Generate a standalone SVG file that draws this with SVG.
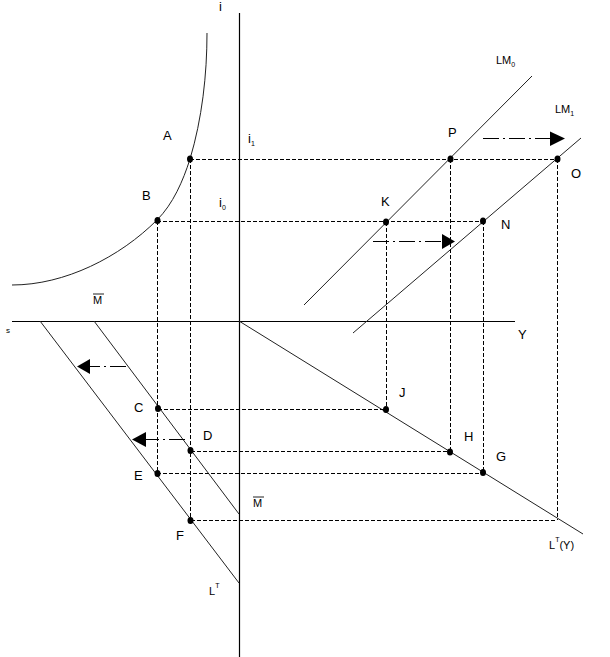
<svg xmlns="http://www.w3.org/2000/svg" width="610" height="657" viewBox="0 0 610 657">
<style>
.ax{stroke:#000;stroke-width:1.2;fill:none}
.ln{stroke:#222;stroke-width:1;fill:none}
.dsh{stroke:#000;stroke-width:1;stroke-dasharray:4,2;fill:none}
.arr{stroke:#000;stroke-width:1;stroke-dasharray:16,4,2,4;fill:none}
.hd{fill:#000}
.dot{fill:#000}
text{font-family:"Liberation Sans",Arial,sans-serif;font-size:13px;fill:#000}
.sub{font-size:7px}
.sm{font-size:11px}
</style>
<rect width="610" height="657" fill="#fff"/>
<g id="axes">
<line class="ax" x1="239.5" y1="13" x2="239.5" y2="657"/>
<line class="ax" x1="12" y1="321.5" x2="515" y2="321.5"/>
</g>
<g id="curves">
<path id="IS-curve" class="ln" d="M207,33 C207,75 202,119 190,159 C183,181 173,204 157,220 C120,257 65,285 12,285"/>
<line id="LM0" class="ln" x1="304" y1="305" x2="532" y2="76"/>
<line id="LM1" class="ln" x1="353" y1="333" x2="581" y2="138"/>
<line id="LTY" class="ln" x1="239" y1="321" x2="583" y2="534"/>
<line id="LT" class="ln" x1="40" y1="321" x2="239" y2="583"/>
<line id="Mbar" class="ln" x1="94" y1="321" x2="239" y2="514"/>
</g>
<g id="connectors">
<line class="dsh" x1="190" y1="159.5" x2="557" y2="159.5"/>
<line class="dsh" x1="157" y1="221.5" x2="483" y2="221.5"/>
<line class="dsh" x1="158" y1="409.5" x2="386" y2="409.5"/>
<line class="dsh" x1="191" y1="451.5" x2="450" y2="451.5"/>
<line class="dsh" x1="157" y1="473.5" x2="483" y2="473.5"/>
<line class="dsh" x1="191" y1="520.5" x2="557" y2="520.5"/>
<line class="dsh" x1="157.5" y1="221" x2="157.5" y2="473"/>
<line class="dsh" x1="190.5" y1="159" x2="190.5" y2="520"/>
<line class="dsh" x1="386.5" y1="222" x2="386.5" y2="409"/>
<line class="dsh" x1="450.5" y1="159" x2="450.5" y2="451"/>
<line class="dsh" x1="483.5" y1="221" x2="483.5" y2="473"/>
<line class="dsh" x1="557.5" y1="159" x2="557.5" y2="520"/>
<line class="arr" x1="483" y1="138.5" x2="550" y2="138.5"/>
<polygon class="hd" points="550,131.5 565,138.5 550,146"/>
<line class="arr" x1="373" y1="241.5" x2="442" y2="241.5"/>
<polygon class="hd" points="442,234 455,241.5 442,249"/>
<line class="arr" x1="126" y1="366.5" x2="90" y2="366.5"/>
<polygon class="hd" points="90,359 77,366.5 90,374"/>
<line class="arr" x1="185" y1="439.5" x2="146" y2="439.5"/>
<polygon class="hd" points="146,432 132,439.5 146,447"/>
</g>
<g id="points">
<ellipse class="dot" cx="190" cy="159" rx="3" ry="3.5"/>
<ellipse class="dot" cx="157.5" cy="220.5" rx="3" ry="3.5"/>
<ellipse class="dot" cx="450.5" cy="159" rx="3" ry="3.5"/>
<ellipse class="dot" cx="557.5" cy="159" rx="3" ry="3.5"/>
<ellipse class="dot" cx="386" cy="222" rx="3" ry="3.5"/>
<ellipse class="dot" cx="483" cy="221" rx="3" ry="3.5"/>
<ellipse class="dot" cx="158" cy="408.5" rx="3" ry="3.5"/>
<ellipse class="dot" cx="190.5" cy="450.5" rx="3" ry="3.5"/>
<ellipse class="dot" cx="157.5" cy="473.5" rx="3" ry="3.5"/>
<ellipse class="dot" cx="190.5" cy="520.5" rx="3" ry="3.5"/>
<ellipse class="dot" cx="386" cy="409.5" rx="3" ry="3.5"/>
<ellipse class="dot" cx="450" cy="452" rx="3" ry="3.5"/>
<ellipse class="dot" cx="483" cy="472.5" rx="3" ry="3.5"/>
</g>
<g id="labels">
<text x="219" y="11">i</text>
<text x="248" y="143">i<tspan class="sub" dy="3">1</tspan></text>
<text x="219" y="207">i<tspan class="sub" dy="3">0</tspan></text>
<text x="163" y="140">A</text>
<text x="142" y="200">B</text>
<text x="93" y="304" class="sm">M</text>
<line class="ln" x1="93" y1="294" x2="104" y2="294"/>
<text x="6" y="333" style="font-size:8px">s</text>
<text x="518" y="339">Y</text>
<text x="496" y="64" class="sm">LM<tspan class="sub" dy="3">0</tspan></text>
<text x="555" y="113" class="sm">LM<tspan class="sub" dy="3">1</tspan></text>
<text x="448" y="137">P</text>
<text x="571" y="178">O</text>
<text x="381" y="206">K</text>
<text x="501" y="229">N</text>
<text x="399" y="397">J</text>
<text x="464" y="441">H</text>
<text x="496" y="461">G</text>
<text x="549" y="549" class="sm">L<tspan class="sub" dy="-7">T</tspan><tspan dy="7">(Y)</tspan></text>
<text x="134" y="412">C</text>
<text x="203" y="440">D</text>
<text x="134" y="480">E</text>
<text x="253" y="507" class="sm">M</text>
<line class="ln" x1="253" y1="497" x2="264" y2="497"/>
<text x="176" y="540">F</text>
<text x="209" y="595" class="sm">L<tspan class="sub" dy="-7">T</tspan></text>
</g>
</svg>
